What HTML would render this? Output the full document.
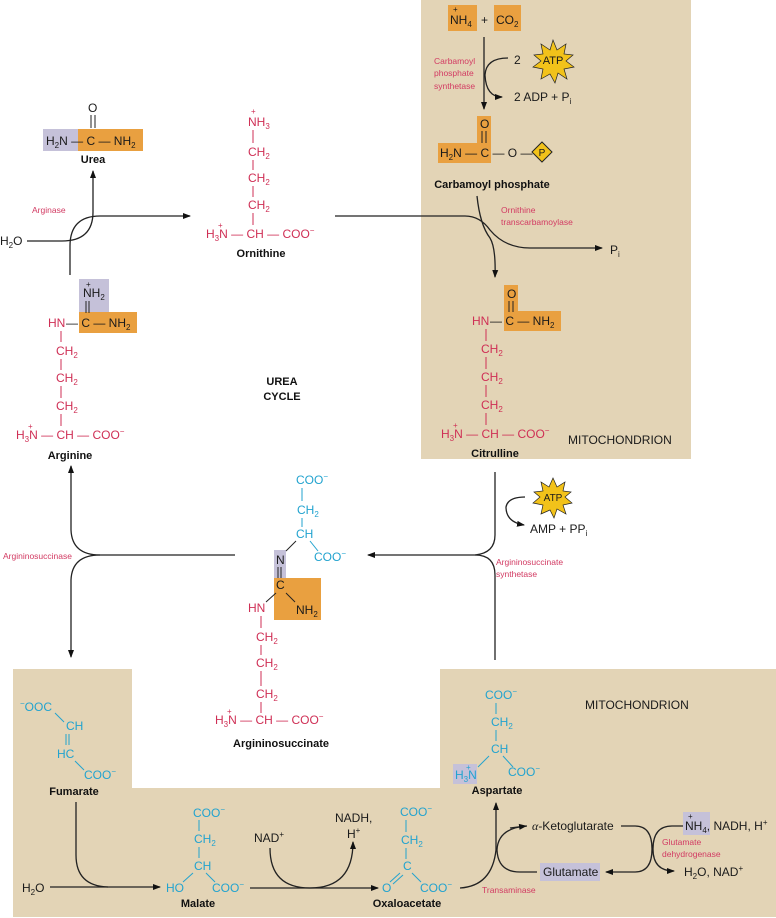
<!DOCTYPE html>
<html><head><meta charset="utf-8"><style>
html,body{margin:0;padding:0;background:#fff}
svg{display:block;font-family:"Liberation Sans",sans-serif}
.r{fill:#cf2f55}.b{fill:#22a3cf}.k{fill:#1a1a1a}
.t{font-size:12px}.s{font-size:8px}.lb{font-size:11px;font-weight:bold;fill:#111}
.en{font-size:8.5px;fill:#d23a62}
.ln{stroke:#222;stroke-width:1.3;fill:none}
.rl{stroke:#cf2f55;stroke-width:1}.bl{stroke:#22a3cf;stroke-width:1}
</style></head><body>
<svg width="776" height="918" viewBox="0 0 776 918">
<defs><marker id="a" markerWidth="8" markerHeight="8" refX="7" refY="4" orient="auto" markerUnits="userSpaceOnUse"><path d="M0,1 L8,4 L0,7z" fill="#111"/></marker></defs>
<rect x="421" y="0" width="270" height="459" fill="#e3d4b6"/>
<path d="M13,669 H132 V788 H440 V669 H776 V917 H13 Z" fill="#e3d4b6"/>

<!-- Urea -->
<rect x="43" y="129" width="35" height="22" fill="#c5c1d9"/>
<rect x="78" y="129" width="65" height="22" fill="#e9a040"/>
<text class="t k" x="88" y="112">O</text>
<line x1="91" y1="115" x2="91" y2="128" stroke="#222"/><line x1="95" y1="115" x2="95" y2="128" stroke="#222"/>
<text class="t k" x="46" y="145">H<tspan class="s" dy="3">2</tspan><tspan dy="-3">N — C — NH</tspan><tspan class="s" dy="3">2</tspan></text>
<text class="lb" x="93" y="163" text-anchor="middle">Urea</text>
<text class="en" x="32" y="213">Arginase</text>
<text class="t k" x="0" y="245">H<tspan class="s" dy="3">2</tspan><tspan dy="-3">O</tspan></text>
<path class="ln" d="M27,241 H62 Q93,241 93,212 V171" marker-end="url(#a)"/>
<path class="ln" d="M70,275 V246 Q70,216 100,216 H190" marker-end="url(#a)"/>

<!-- Ornithine -->
<text class="r" x="251" y="114" font-size="8">+</text>
<text class="t r" x="248" y="126">NH<tspan class="s" dy="3">3</tspan></text>
<line class="rl" x1="253" y1="130" x2="253" y2="143"/>
<text class="t r" x="248" y="156">CH<tspan class="s" dy="3">2</tspan></text>
<line class="rl" x1="253" y1="160" x2="253" y2="170"/>
<text class="t r" x="248" y="182">CH<tspan class="s" dy="3">2</tspan></text>
<line class="rl" x1="253" y1="186" x2="253" y2="197"/>
<text class="t r" x="248" y="209">CH<tspan class="s" dy="3">2</tspan></text>
<line class="rl" x1="253" y1="213" x2="253" y2="225"/>
<text class="r" x="218" y="228" font-size="8">+</text>
<text class="t r" x="206" y="238">H<tspan class="s" dy="3">3</tspan><tspan dy="-3">N — CH — COO</tspan><tspan class="s" dy="-5">−</tspan></text>
<text class="lb" x="261" y="257" text-anchor="middle">Ornithine</text>

<!-- Arginine -->
<rect x="79" y="279" width="30" height="34" fill="#c5c1d9"/>
<rect x="79" y="312" width="58" height="21" fill="#e9a040"/>
<text class="k" x="86" y="287" font-size="8">+</text>
<text class="t k" x="83" y="297">NH<tspan class="s" dy="3">2</tspan></text>
<line x1="86" y1="301" x2="86" y2="313" stroke="#222"/><line x1="89" y1="301" x2="89" y2="313" stroke="#222"/>
<text class="t r" x="48" y="327">HN</text>
<text class="t k" x="66" y="327">— C — NH<tspan class="s" dy="3">2</tspan></text>
<line class="rl" x1="61" y1="331" x2="61" y2="342"/>
<text class="t r" x="56" y="355">CH<tspan class="s" dy="3">2</tspan></text>
<line class="rl" x1="61" y1="359" x2="61" y2="370"/>
<text class="t r" x="56" y="382">CH<tspan class="s" dy="3">2</tspan></text>
<line class="rl" x1="61" y1="386" x2="61" y2="398"/>
<text class="t r" x="56" y="410">CH<tspan class="s" dy="3">2</tspan></text>
<line class="rl" x1="61" y1="414" x2="61" y2="426"/>
<text class="r" x="28" y="429" font-size="8">+</text>
<text class="t r" x="16" y="439">H<tspan class="s" dy="3">3</tspan><tspan dy="-3">N — CH — COO</tspan><tspan class="s" dy="-5">−</tspan></text>
<text class="lb" x="70" y="459" text-anchor="middle">Arginine</text>

<text class="lb" x="282" y="385" text-anchor="middle">UREA</text>
<text class="lb" x="282" y="400" text-anchor="middle">CYCLE</text>

<!-- Top right -->
<rect x="448" y="5" width="29" height="26" fill="#e9a040"/>
<rect x="494" y="5" width="27" height="26" fill="#e9a040"/>
<text class="k" x="453" y="12" font-size="8">+</text>
<text class="t k" x="450" y="24">NH<tspan class="s" dy="3">4</tspan></text>
<text class="t k" x="481" y="24">+</text>
<text class="t k" x="496" y="24">CO<tspan class="s" dy="3">2</tspan></text>
<line class="ln" x1="484" y1="37" x2="484" y2="109" marker-end="url(#a)"/>
<text class="en" x="434" y="64">Carbamoyl</text>
<text class="en" x="434" y="76">phosphate</text>
<text class="en" x="434" y="89">synthetase</text>
<path class="ln" d="M508,58 Q486,58 485,75 Q486,97 502,97" marker-end="url(#a)"/>
<text class="t k" x="514" y="64">2</text>
<polygon points="553,40 557,50 566,44 564,54 573,55 566,61 574,67 564,69 567,79 558,73 555,83 550,74 541,79 543,69 533,67 541,61 534,55 543,54 541,44 550,50" fill="#f2c21a" stroke="#222" stroke-width="0.7"/>
<text x="553" y="64" font-size="11" text-anchor="middle" class="k">ATP</text>
<text class="t k" x="514" y="101">2 ADP + P<tspan class="s" dy="3">i</tspan></text>

<!-- Carbamoyl phosphate -->
<rect x="477" y="116" width="14" height="47" fill="#e9a040"/>
<rect x="438" y="143" width="53" height="20" fill="#e9a040"/>
<text class="t k" x="480" y="128">O</text>
<line x1="482" y1="131" x2="482" y2="143" stroke="#222"/><line x1="486" y1="131" x2="486" y2="143" stroke="#222"/>
<text class="t k" x="440" y="157">H<tspan class="s" dy="3">2</tspan><tspan dy="-3">N — C — O —</tspan></text>
<polygon points="542,142 552,152 542,162 532,152" fill="#f2c21a" stroke="#222" stroke-width="1"/>
<text x="542" y="156" font-size="10" text-anchor="middle" class="k">P</text>
<text class="lb" x="492" y="188" text-anchor="middle">Carbamoyl phosphate</text>
<text class="en" x="501" y="213">Ornithine</text>
<text class="en" x="501" y="225">transcarbamoylase</text>
<path class="ln" d="M335,216 H465 Q480,216 490,230 Q505,248 530,248 H602" marker-end="url(#a)"/>
<path class="ln" d="M477,196 Q480,225 490,238 Q496,248 495,277" marker-end="url(#a)"/>
<text class="t k" x="610" y="254">P<tspan class="s" dy="3">i</tspan></text>

<!-- Citrulline -->
<rect x="504" y="285" width="14" height="45" fill="#e9a040"/>
<rect x="504" y="311" width="57" height="20" fill="#e9a040"/>
<text class="t k" x="507" y="298">O</text>
<line x1="509" y1="301" x2="509" y2="312" stroke="#222"/><line x1="513" y1="301" x2="513" y2="312" stroke="#222"/>
<text class="t r" x="472" y="325">HN</text>
<text class="t k" x="490" y="325">— C — NH<tspan class="s" dy="3">2</tspan></text>
<line class="rl" x1="486" y1="329" x2="486" y2="341"/>
<text class="t r" x="481" y="353">CH<tspan class="s" dy="3">2</tspan></text>
<line class="rl" x1="486" y1="357" x2="486" y2="369"/>
<text class="t r" x="481" y="381">CH<tspan class="s" dy="3">2</tspan></text>
<line class="rl" x1="486" y1="385" x2="486" y2="397"/>
<text class="t r" x="481" y="409">CH<tspan class="s" dy="3">2</tspan></text>
<line class="rl" x1="486" y1="413" x2="486" y2="425"/>
<text class="r" x="453" y="428" font-size="8">+</text>
<text class="t r" x="441" y="438">H<tspan class="s" dy="3">3</tspan><tspan dy="-3">N — CH — COO</tspan><tspan class="s" dy="-5">−</tspan></text>
<text class="lb" x="495" y="457" text-anchor="middle">Citrulline</text>
<text x="568" y="444" font-size="12" class="k">MITOCHONDRION</text>

<!-- synthetase junction -->
<path class="ln" d="M495,472 V535 Q495,553 475,555 H368" marker-end="url(#a)"/>
<path class="ln" d="M475,555 Q495,555 495,575 V660"/>
<path class="ln" d="M525,497 Q508,497 506,507 Q506,522 524,525" marker-end="url(#a)"/>
<polygon points="553,478 557,487 565,482 563,491 571,492 565,497 572,503 563,505 566,514 557,509 554,518 550,510 541,514 543,505 533,503 540,497 534,492 543,491 541,482 549,487" fill="#f2c21a" stroke="#222" stroke-width="0.7"/>
<text x="553" y="501" font-size="10" text-anchor="middle" class="k">ATP</text>
<text class="t k" x="530" y="533">AMP + PP<tspan class="s" dy="3">i</tspan></text>
<text class="en" x="496" y="565">Argininosuccinate</text>
<text class="en" x="496" y="577">synthetase</text>

<!-- Argininosuccinase junction -->
<path class="ln" d="M235,555 H100 Q72,555 71,530 V466" marker-end="url(#a)"/>
<path class="ln" d="M100,555 Q72,555 71,580 V657" marker-end="url(#a)"/>
<text class="en" x="3" y="559">Argininosuccinase</text>

<!-- Argininosuccinate -->
<rect x="274" y="550" width="12" height="28" fill="#c5c1d9"/>
<rect x="274" y="578" width="47" height="42" fill="#e9a040"/>
<text class="t b" x="296" y="484">COO<tspan class="s" dy="-5">−</tspan></text>
<line class="bl" x1="302" y1="488" x2="302" y2="501"/>
<text class="t b" x="297" y="514">CH<tspan class="s" dy="3">2</tspan></text>
<line class="bl" x1="302" y1="518" x2="302" y2="527"/>
<text class="t b" x="296" y="538">CH</text>
<line class="bl" x1="310" y1="541" x2="318" y2="551"/>
<line x1="296" y1="541" x2="286" y2="551" stroke="#222"/>
<text class="t b" x="314" y="561">COO<tspan class="s" dy="-5">−</tspan></text>
<text class="t k" x="276" y="564">N</text>
<line x1="278" y1="567" x2="278" y2="578" stroke="#222"/><line x1="281" y1="567" x2="281" y2="578" stroke="#222"/>
<text class="t k" x="276" y="589">C</text>
<line x1="276" y1="593" x2="266" y2="602" stroke="#222"/>
<line x1="286" y1="593" x2="295" y2="602" stroke="#222"/>
<text class="t r" x="248" y="612">HN</text>
<text class="t k" x="296" y="614">NH<tspan class="s" dy="3">2</tspan></text>
<line class="rl" x1="261" y1="616" x2="261" y2="628"/>
<text class="t r" x="256" y="641">CH<tspan class="s" dy="3">2</tspan></text>
<line class="rl" x1="261" y1="645" x2="261" y2="655"/>
<text class="t r" x="256" y="667">CH<tspan class="s" dy="3">2</tspan></text>
<line class="rl" x1="261" y1="671" x2="261" y2="686"/>
<text class="t r" x="256" y="698">CH<tspan class="s" dy="3">2</tspan></text>
<line class="rl" x1="261" y1="702" x2="261" y2="713"/>
<text class="r" x="227" y="714" font-size="8">+</text>
<text class="t r" x="215" y="724">H<tspan class="s" dy="3">3</tspan><tspan dy="-3">N — CH — COO</tspan><tspan class="s" dy="-5">−</tspan></text>
<text class="lb" x="281" y="747" text-anchor="middle">Argininosuccinate</text>

<!-- Fumarate -->
<text class="t b" x="20" y="711"><tspan class="s" dy="-5">−</tspan><tspan dy="5">OOC</tspan></text>
<line class="bl" x1="55" y1="713" x2="64" y2="722"/>
<text class="t b" x="66" y="730">CH</text>
<line class="bl" x1="66" y1="734" x2="66" y2="745"/><line class="bl" x1="69" y1="734" x2="69" y2="745"/>
<text class="t b" x="57" y="758">HC</text>
<line class="bl" x1="75" y1="761" x2="84" y2="770"/>
<text class="t b" x="84" y="779">COO<tspan class="s" dy="-5">−</tspan></text>
<text class="lb" x="74" y="795" text-anchor="middle">Fumarate</text>
<path class="ln" d="M76,802 V855 Q76,886 108,887"/>
<text class="t k" x="22" y="892">H<tspan class="s" dy="3">2</tspan><tspan dy="-3">O</tspan></text>
<line class="ln" x1="50" y1="887" x2="160" y2="887" marker-end="url(#a)"/>

<!-- Malate -->
<text class="t b" x="193" y="817">COO<tspan class="s" dy="-5">−</tspan></text>
<line class="bl" x1="199" y1="820" x2="199" y2="831"/>
<text class="t b" x="194" y="843">CH<tspan class="s" dy="3">2</tspan></text>
<line class="bl" x1="199" y1="847" x2="199" y2="858"/>
<text class="t b" x="194" y="870">CH</text>
<line class="bl" x1="193" y1="873" x2="183" y2="882"/><line class="bl" x1="206" y1="873" x2="215" y2="882"/>
<text class="t b" x="166" y="892">HO</text>
<text class="t b" x="212" y="892">COO<tspan class="s" dy="-5">−</tspan></text>
<text class="lb" x="198" y="907" text-anchor="middle">Malate</text>
<line class="ln" x1="250" y1="888" x2="378" y2="888" marker-end="url(#a)"/>
<text class="t k" x="254" y="842">NAD<tspan class="s" dy="-5">+</tspan></text>
<path class="ln" d="M270,848 Q270,888 310,888 Q353,888 353,842" marker-end="url(#a)"/>
<text class="t k" x="335" y="822">NADH,</text>
<text class="t k" x="347" y="838">H<tspan class="s" dy="-5">+</tspan></text>

<!-- Oxaloacetate -->
<text class="t b" x="400" y="816">COO<tspan class="s" dy="-5">−</tspan></text>
<line class="bl" x1="406" y1="820" x2="406" y2="832"/>
<text class="t b" x="401" y="844">CH<tspan class="s" dy="3">2</tspan></text>
<line class="bl" x1="406" y1="848" x2="406" y2="859"/>
<text class="t b" x="403" y="870">C</text>
<line class="bl" x1="400" y1="873" x2="390" y2="882"/><line class="bl" x1="403" y1="875" x2="393" y2="884"/>
<line class="bl" x1="412" y1="873" x2="421" y2="882"/>
<text class="t b" x="382" y="892">O</text>
<text class="t b" x="420" y="892">COO<tspan class="s" dy="-5">−</tspan></text>
<text class="lb" x="407" y="907" text-anchor="middle">Oxaloacetate</text>
<path class="ln" d="M460,888 Q492,886 496,850 V803" marker-end="url(#a)"/>
<text class="en" x="482" y="893">Transaminase</text>

<!-- Aspartate -->
<rect x="453" y="764" width="24" height="20" fill="#c5c1d9"/>
<text class="t b" x="485" y="699">COO<tspan class="s" dy="-5">−</tspan></text>
<line class="bl" x1="496" y1="703" x2="496" y2="714"/>
<text class="t b" x="491" y="726">CH<tspan class="s" dy="3">2</tspan></text>
<line class="bl" x1="496" y1="730" x2="496" y2="741"/>
<text class="t b" x="491" y="753">CH</text>
<line class="bl" x1="489" y1="756" x2="478" y2="767"/><line class="bl" x1="503" y1="756" x2="513" y2="767"/>
<text class="b" x="466" y="770" font-size="8">+</text>
<text class="t b" x="455" y="779">H<tspan class="s" dy="3">3</tspan><tspan dy="-3">N</tspan></text>
<text class="t b" x="508" y="776">COO<tspan class="s" dy="-5">−</tspan></text>
<text class="lb" x="497" y="794" text-anchor="middle">Aspartate</text>
<text x="585" y="709" font-size="12" class="k">MITOCHONDRION</text>

<!-- transaminase loop -->
<path class="ln" d="M527,826 Q498,828 497,850 Q498,872 520,872 H537"/>
<path class="ln" d="M510,828 L526,826" marker-end="url(#a)"/>
<text class="t k" x="532" y="830"><tspan font-style="italic" font-family="Liberation Serif">α</tspan>-Ketoglutarate</text>
<rect x="540" y="863" width="60" height="18" fill="#c5c1d9"/>
<text class="t k" x="543" y="876">Glutamate</text>
<path class="ln" d="M621,826 H635 Q652,826 652,849 Q652,872 635,872 H606" marker-end="url(#a)"/>
<rect x="683" y="812" width="27" height="23" fill="#c5c1d9"/>
<text class="k" x="688" y="819" font-size="8">+</text>
<text class="t k" x="685" y="830">NH<tspan class="s" dy="3">4</tspan><tspan dy="-3">, NADH, H</tspan><tspan class="s" dy="-5">+</tspan></text>
<path class="ln" d="M683,826 H672 Q653,826 653,849 Q653,871 674,871" marker-end="url(#a)"/>
<text class="en" x="662" y="845">Glutamate</text>
<text class="en" x="662" y="857">dehydrogenase</text>
<text class="t k" x="684" y="876">H<tspan class="s" dy="3">2</tspan><tspan dy="-3">O, NAD</tspan><tspan class="s" dy="-5">+</tspan></text>
</svg>
</body></html>
